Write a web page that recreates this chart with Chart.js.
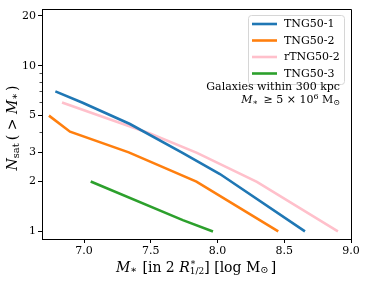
<!DOCTYPE html>
<html>
<head>
<meta charset="utf-8">
<script src="https://cdn.jsdelivr.net/npm/chart.js@4"></script>
<style>
html,body{margin:0;padding:0;background:#fff;}
canvas{display:block;}
</style>
</head>
<body>
<canvas id="c" width="366" height="283"></canvas>
<script>
// ---- data ----
const seriesNames = ['TNG50-1', 'TNG50-2', 'rTNG50-2', 'TNG50-3'];
const tng1X = [6.785, 6.985, 7.344, 7.741, 8.018, 8.655];
const tng1Y = [7.0, 6.0, 4.45, 2.97, 2.22, 1.0];
const tng2X = [6.737, 6.895, 7.335, 7.842, 8.455];
const tng2Y = [5.0, 4.0, 3.0, 2.0, 1.0];
const rtng2X = [6.835, 7.494, 7.846, 8.295, 8.902];
const rtng2Y = [6.0, 3.9, 2.98, 1.99, 1.0];
const tng3X = [7.05, 7.74, 7.966];
const tng3Y = [2.0, 1.17, 1.0];
const xTicks = [7.0, 7.5, 8.0, 8.5, 9.0];
const yTicks = [1, 2, 3, 4, 5, 6, 7, 8, 9, 10, 20];
const yLabelled = [1, 2, 3, 5, 10, 20];
const colors = ['#1f77b4', '#ff7f0e', '#ffc0cb', '#2ca02c'];

const FONT = "'DejaVu Serif', serif";
const toPts = (xs, ys) => xs.map((x, i) => ({x: x, y: ys[i]}));
const allX = [tng1X, tng2X, rtng2X, tng3X];
const allY = [tng1Y, tng2Y, rtng2Y, tng3Y];

function richWidth(ctx, segs, size) {
  let w = 0;
  for (const s of segs) {
    ctx.font = (s.i ? 'italic ' : '') + Math.round(size * (s.sc || 1)) + 'px ' + FONT;
    if (!s.nx) w += ctx.measureText(s.t).width + (s.gap || 0);
  }
  return w;
}
function drawRich(ctx, segs, size, x, y) {
  let cx = x;
  for (const s of segs) {
    ctx.font = (s.i ? 'italic ' : '') + Math.round(size * (s.sc || 1)) + 'px ' + FONT;
    ctx.fillText(s.t, cx, y + (s.dy || 0) * size);
    if (!s.nx) cx += ctx.measureText(s.t).width + (s.gap || 0);
  }
}

const extras = {
  id: 'extras',
  afterDraw(chart) {
    const ctx = chart.ctx;
    const a = chart.chartArea;
    const ys = chart.scales.y;
    ctx.save();
    // frame top/right
    ctx.strokeStyle = '#000';
    ctx.lineWidth = 1;
    ctx.beginPath();
    ctx.moveTo(a.left, a.top + 0.5);
    ctx.lineTo(a.right + 0.5, a.top + 0.5);
    ctx.lineTo(a.right + 0.5, a.bottom);
    ctx.stroke();
    // minor ticks
    ctx.lineWidth = 0.7;
    for (const v of yTicks) {
      if (yLabelled.includes(v)) continue;
      const py = Math.round(ys.getPixelForValue(v)) + 0.5;
      ctx.beginPath();
      ctx.moveTo(a.left - 2.5, py);
      ctx.lineTo(a.left, py);
      ctx.stroke();
    }
    // legend
    const lx = 248.5, ly = 15.5, lw = 96, lh = 69;
    ctx.fillStyle = 'rgba(255,255,255,0.85)';
    ctx.strokeStyle = '#d6d6d6';
    ctx.lineWidth = 1;
    ctx.beginPath();
    ctx.roundRect(lx, ly, lw, lh, 3);
    ctx.fill();
    ctx.stroke();
    const rowY = [24, 40.5, 57, 73.5];
    ctx.textBaseline = 'middle';
    ctx.textAlign = 'left';
    ctx.font = '11px ' + FONT;
    for (let i = 0; i < seriesNames.length; i++) {
      ctx.strokeStyle = colors[i];
      ctx.lineWidth = 2.6;
      ctx.beginPath();
      ctx.moveTo(252, rowY[i]);
      ctx.lineTo(277, rowY[i]);
      ctx.stroke();
      ctx.fillStyle = '#000';
      ctx.fillText(seriesNames[i], 284, rowY[i] + 0.5);
    }
    // annotation
    ctx.fillStyle = '#000';
    ctx.textAlign = 'right';
    ctx.font = '11px ' + FONT;
    ctx.fillText('Galaxies within 300 kpc', 340, 87);
    ctx.textAlign = 'left';
    const ann = [
      {t: 'M', i: true}, {t: '∗', sc: 0.7, dy: 0.18, gap: 2},
      {t: ' ≥ 5 × 10'}, {t: '6', sc: 0.7, dy: -0.35},
      {t: ' M'}, {t: '⊙', sc: 0.7, dy: 0.2}
    ];
    const aw = richWidth(ctx, ann, 11);
    drawRich(ctx, ann, 11, 340 - aw, 100.5);
    // x title
    const xt = [
      {t: 'M', i: true}, {t: '∗', sc: 0.7, dy: 0.18, gap: 1},
      {t: ' [in 2 '}, {t: 'R', i: true},
      {t: '∗', sc: 0.65, dy: -0.38, nx: true}, {t: '1/2', sc: 0.65, dy: 0.25, gap: 0},
      {t: '] [log M'}, {t: '⊙', sc: 0.7, dy: 0.2, gap: 2}, {t: ']'}
    ];
    const xw = richWidth(ctx, xt, 14);
    drawRich(ctx, xt, 14, 196 - xw / 2, 268);
    // y title
    ctx.translate(13, 128);
    ctx.rotate(-Math.PI / 2);
    const yt = [
      {t: 'N', i: true}, {t: 'sat', sc: 0.7, dy: 0.22, gap: 3},
      {t: '( > '}, {t: 'M', i: true}, {t: '∗', sc: 0.7, dy: 0.18, gap: 2}, {t: ')'}
    ];
    const yw = richWidth(ctx, yt, 14);
    drawRich(ctx, yt, 14, -yw / 2, 0);
    ctx.restore();
  }
};

new Chart(document.getElementById('c'), {
  type: 'line',
  data: {
    datasets: seriesNames.map((n, i) => ({
      label: n,
      data: toPts(allX[i], allY[i]),
      borderColor: colors[i],
      backgroundColor: colors[i],
      borderWidth: 2.6,
      pointRadius: 0,
      fill: false,
      tension: 0,
      borderCapStyle: 'butt'
    }))
  },
  options: {
    responsive: false,
    devicePixelRatio: 1,
    animation: false,
    events: [],
    layout: {padding: {left: 0, top: 9, right: 15, bottom: 0}},
    plugins: {legend: {display: false}, tooltip: {enabled: false}},
    scales: {
      x: {
        type: 'linear',
        min: 6.685,
        max: 9.0,
        afterBuildTicks: s => { s.ticks = xTicks.map(v => ({value: v})); },
        afterFit: s => { s.height = 44; },
        ticks: {
          callback: v => Number(v).toFixed(1),
          font: {family: FONT, size: 11},
          color: '#000',
          padding: 2,
          maxRotation: 0,
          autoSkip: false
        },
        grid: {drawOnChartArea: false, tickLength: 4, color: '#000', tickWidth: 1},
        border: {color: '#000', width: 1}
      },
      y: {
        type: 'logarithmic',
        min: 0.9,
        max: 22,
        afterBuildTicks: s => { s.ticks = yTicks.map(v => ({value: v})); },
        afterFit: s => { s.width = 42; },
        ticks: {
          callback: v => (yLabelled.includes(v) ? String(v) : ''),
          font: {family: FONT, size: 11},
          color: '#000',
          padding: 2,
          autoSkip: false
        },
        grid: {
          drawOnChartArea: false,
          tickLength: 4,
          tickWidth: 1,
          tickColor: c => (c.tick && yLabelled.includes(c.tick.value) ? '#000' : 'rgba(0,0,0,0)'),
          color: '#000'
        },
        border: {color: '#000', width: 1}
      }
    }
  },
  plugins: [extras]
});
</script>
</body>
</html>
